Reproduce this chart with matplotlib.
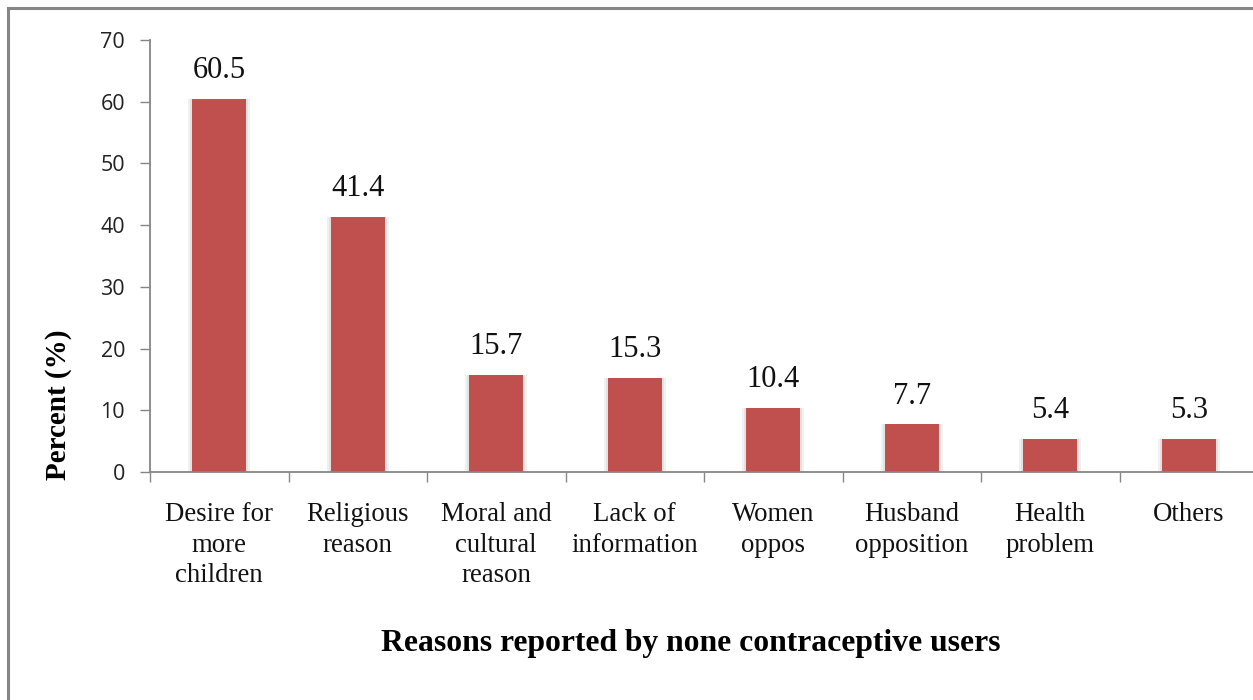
import matplotlib
matplotlib.use("Agg")
import matplotlib.pyplot as plt
from matplotlib.lines import Line2D
import matplotlib.transforms as mtransforms

categories = ["Desire for\nmore\nchildren", "Religious\nreason", "Moral and\ncultural\nreason",
              "Lack of\ninformation", "Women\noppos", "Husband\nopposition", "Health\nproblem", "Others"]
values = [60.5, 41.4, 15.7, 15.3, 10.4, 7.7, 5.4, 5.3]
yticks = [0, 10, 20, 30, 40, 50, 60, 70]

W, H = 1253, 700
fig = plt.figure(figsize=(W / 100, H / 100), dpi=100)
fig.patch.set_facecolor("white")

# outer border (cropped chart area)
fig.add_artist(Line2D([8 / W, 1.0], [1 - 8 / H, 1 - 8 / H], transform=fig.transFigure,
                      color="#868686", lw=2.2))
fig.add_artist(Line2D([8 / W, 8 / W], [0, 1 - 8 / H], transform=fig.transFigure,
                      color="#868686", lw=2.2))

ax = fig.add_axes([150 / W, 1 - 472 / H, (1258 - 150) / W, (472 - 40) / H])
x = list(range(len(values)))

# soft shadow behind bars
ax.bar(x, values, width=0.45, color="#f0f0f0", zorder=1)
ax.bar(x, values, width=0.42, color="#e2e2e2", zorder=1)
ax.bar(x, values, width=0.392, color="#C0504D", zorder=2)

ax.set_xlim(-0.5, len(values) - 0.5)
ax.set_ylim(0, 70)
ax.set_yticks(yticks)
ax.set_yticklabels([str(t) for t in yticks], fontfamily="Open Sans", fontsize=15.5, color="#222222")
ax.tick_params(axis="y", direction="out", length=7, width=1, color="#868686", pad=11)

ax.set_xticks([i - 0.5 for i in range(len(values) + 1)])
ax.set_xticklabels([])
ax.tick_params(axis="x", direction="out", length=7, width=1, color="#868686")

for s in ["top", "right"]:
    ax.spines[s].set_visible(False)
for s in ["left", "bottom"]:
    ax.spines[s].set_color("#868686")
    ax.spines[s].set_linewidth(1.3)

for xi, v in zip(x, values):
    ax.annotate(f"{v}", (xi, v), xytext=(0, 10), textcoords="offset points",
                ha="center", va="bottom", fontfamily="Liberation Serif", fontsize=22, color="#111111")

trans = mtransforms.blended_transform_factory(ax.transData, fig.transFigure)
for xi, lab in zip(x, categories):
    ax.text(xi, 1 - 502 / H, lab, transform=trans, ha="center", va="top",
            fontfamily="Liberation Serif", fontsize=19.3, linespacing=1.3, color="#111111")

fig.text(58 / W, 1 - 405 / H, "Percent (%)", rotation=90, ha="center", va="center",
         fontfamily="Liberation Serif", fontweight="bold", fontsize=21)
fig.text(691 / W, 1 - 643 / H, "Reasons reported by none contraceptive users", ha="center", va="center",
         fontfamily="Liberation Serif", fontweight="bold", fontsize=22.8)

fig.savefig("out.png", dpi=100)
